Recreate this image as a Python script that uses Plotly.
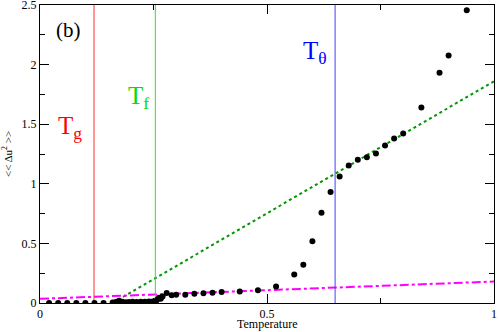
import plotly.graph_objects as go

# measured <<du^2>> vs temperature
temp = [0.02, 0.04, 0.06, 0.08, 0.10, 0.12, 0.14,
        0.160, 0.167, 0.174, 0.181, 0.189, 0.196, 0.204, 0.213, 0.222, 0.231, 0.240, 0.248, 0.255,
        0.258, 0.262, 0.266, 0.27, 0.279, 0.29, 0.30, 0.32, 0.34, 0.36, 0.38, 0.40, 0.44, 0.48,
        0.52, 0.56, 0.58, 0.60, 0.62, 0.64, 0.66, 0.68, 0.70, 0.72, 0.74, 0.76, 0.78, 0.80,
        0.84, 0.88, 0.90, 0.94]
du2 = [0.0, 0.0, 0.0, 0.0, 0.0, 0.0, 0.0,
       0.005, 0.008, 0.018, 0.010, 0.006, 0.008, 0.010, 0.008, 0.010, 0.010, 0.012, 0.012, 0.014,
       0.028, 0.045, 0.035, 0.055, 0.084, 0.064, 0.070, 0.070, 0.078, 0.081, 0.086, 0.092, 0.097, 0.106,
       0.139, 0.240, 0.321, 0.517, 0.758, 0.931, 1.062, 1.154, 1.202, 1.222, 1.255, 1.322, 1.381, 1.423,
       1.641, 1.932, 2.077, 2.455]

# linear fits
fit_hi_t = [0.16, 1.0]
fit_hi_y = [0.0, 1.86]
fit_lo_t = [0.0, 1.0]
fit_lo_y = [0.035, 0.18]

# characteristic temperatures
t_g, t_f, t_theta = 0.119, 0.254, 0.650

serif = "Liberation Serif"

fig = go.Figure()
fig.add_trace(go.Scatter(x=fit_hi_t, y=fit_hi_y, mode='lines',
                         line=dict(color='rgb(0,150,0)', width=2, dash='dot')))
fig.add_trace(go.Scatter(x=fit_lo_t, y=fit_lo_y, mode='lines',
                         line=dict(color='magenta', width=2, dash='dashdot')))
for t, c in [(t_g, '#ff3030'), (t_f, '#30e030'), (t_theta, '#4040ff')]:
    fig.add_trace(go.Scatter(x=[t, t], y=[0, 2.5], mode='lines', line=dict(color=c, width=1)))
fig.add_trace(go.Scatter(x=temp, y=du2, mode='markers',
                         marker=dict(color='black', size=6)))

fig.add_annotation(x=0.03, y=2.29, text="(b)", showarrow=False, xanchor='left',
                   font=dict(family=serif, size=21, color='black'))
fig.add_annotation(x=0.035, y=1.47, text="T<sub>g</sub>", showarrow=False, xanchor='left',
                   font=dict(family=serif, size=25, color='red'))
fig.add_annotation(x=0.19, y=1.72, text="T<sub>f</sub>", showarrow=False, xanchor='left',
                   font=dict(family=serif, size=25, color='#00e000'))
fig.add_annotation(x=0.575, y=2.10, text="T<sub>θ</sub>", showarrow=False, xanchor='left',
                   font=dict(family=serif, size=25, color='blue'))

# axis titles placed by hand
fig.add_annotation(x=0.5, y=0, xref='paper', yref='paper', yshift=-30, yanchor='bottom',
                   text="Temperature", showarrow=False,
                   font=dict(family=serif, size=12, color='black'))
fig.add_annotation(x=0, y=0.5, xref='paper', yref='paper', xshift=-24, xanchor='right',
                   text="&lt;&lt; Δu<sup>2</sup> &gt;&gt;", textangle=-90, showarrow=False,
                   font=dict(family=serif, size=11, color='black'))

axis = dict(showline=True, linecolor='black', linewidth=1, mirror='ticks',
            ticks='inside', ticklen=9, tickcolor='black', showgrid=False, zeroline=False,
            automargin=False, ticklabeloverflow='allow',
            tickfont=dict(family=serif, size=12, color='black'))
fig.update_xaxes(axis, range=[0, 1], dtick=0.5,
                 minor=dict(dtick=0.25, ticklen=5, ticks='inside', tickcolor='black'))
fig.update_yaxes(axis, range=[0, 2.5], dtick=0.5,
                 minor=dict(dtick=0.25, ticklen=5, ticks='inside', tickcolor='black'))
fig.update_layout(width=498, height=332, showlegend=False,
                  font=dict(family=serif, color='black'),
                  margin=dict(l=40, r=4, t=5, b=29),
                  plot_bgcolor='white', paper_bgcolor='white')
fig.write_html("out.html", config={'displayModeBar': False},
               post_script="document.body.style.margin='0px';")
